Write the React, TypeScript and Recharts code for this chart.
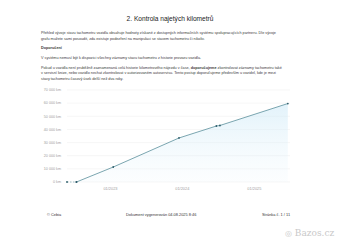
import {
  ComposedChart,
  Area,
  Line,
  XAxis,
  YAxis,
  CartesianGrid,
} from "recharts";

// Stav tachometru v čase
const dates = [
  "2022-05-25",
  "2022-07-12",
  "2023-01-15",
  "2023-12-15",
  "2024-06-22",
  "2024-07-10",
  "2025-06-20",
];
const km = [0, 0, 11400, 33500, 42600, 43000, 59700];
const yTicks = [0, 10000, 20000, 30000, 40000, 50000, 60000, 70000];
const xTicks = ["2023-01-01", "2024-01-01", "2025-01-01"];
const xDomain = ["2022-05-25", "2025-07-01"];

const data = dates.map((d, i) => ({
  t: Date.parse(d),
  dash: i < 2 ? km[i] : null,
  km: i >= 1 ? km[i] : null,
}));

const fmtKm = (v: number) =>
  `${String(v).replace(/\B(?=(\d{3})+(?!\d))/g, " ")} km`;
const fmtDate = (t: number) => {
  const d = new Date(t);
  return `${String(d.getUTCMonth() + 1).padStart(2, "0")}/${d.getUTCFullYear()}`;
};

const FONT = "'Liberation Sans', Arial, sans-serif";
const TEXT = "#3a3a3a";

const YTick = ({ x, y, payload }: any) => (
  <text
    x={x}
    y={y}
    dy="0.35em"
    textAnchor="end"
    fontSize={3.7}
    fill="#a0a0a0"
    fontFamily={FONT}
  >
    {fmtKm(payload.value)}
  </text>
);

const XTick = ({ x, y, payload }: any) => (
  <text
    x={x}
    y={y}
    dy="0.71em"
    textAnchor="middle"
    fontSize={3.9}
    fill="#a0a0a0"
    fontFamily={FONT}
  >
    {fmtDate(payload.value)}
  </text>
);

const lines: { y: number; text: React.ReactNode; bold?: boolean }[] = [
  {
    y: 33,
    text: "Přehled vývoje stavu tachometru vozidla obsahuje hodnoty získané z dostupných informačních systémů spolupracujících partnerů. Dle vývoje",
  },
  {
    y: 39,
    text: "grafu můžete sami posoudit, zda existuje podezření na manipulaci se stavem tachometru či nikoliv.",
  },
  { y: 48, text: "Doporučení", bold: true },
  {
    y: 58,
    text: "V systému nemusí být k dispozici všechny záznamy stavů tachometru z historie provozu vozidla.",
  },
  {
    y: 68,
    text: (
      <>
        Pokud u vozidla není průběžně zaznamenaná celá historie kilometrového nájezdu v čase,{" "}
        <b>doporučujeme</b> zkontrolovat záznamy tachometru také
      </>
    ),
  },
  {
    y: 73.5,
    text: "v servisní knize, nebo vozidlo nechat zkontrolovat v autorizovaném autoservisu. Tento postup doporučujeme především u vozidel, kde je mezi",
  },
  { y: 79, text: "stavy tachometru časový úsek delší než dva roky." },
];

export default function App() {
  return (
    <div
      style={{
        position: "fixed",
        left: 0,
        top: 0,
        width: 340,
        height: 242,
        background: "#fff",
        fontFamily: FONT,
        overflow: "hidden",
      }}
    >
      <div
        style={{
          position: "absolute",
          top: 14,
          width: 340,
          textAlign: "center",
          fontSize: 6.6,
          lineHeight: "10px",
          fontWeight: 500,
          color: "#222",
        }}
      >
        2. Kontrola najetých kilometrů
      </div>

      {lines.map((l, i) => (
        <div
          key={i}
          style={{
            position: "absolute",
            left: 41,
            top: l.y - 2.5,
            fontSize: 3.75,
            lineHeight: "5px",
            whiteSpace: "nowrap",
            color: TEXT,
            fontWeight: l.bold ? 700 : 400,
          }}
        >
          {l.text}
        </div>
      ))}

      <div style={{ position: "absolute", left: 0, top: 84 }}>
        <ComposedChart
          width={340}
          height={110}
          data={data}
          margin={{ top: 6, right: 50, bottom: 0, left: 0 }}
        >
          <defs>
            <linearGradient id="kmFill" x1="0" y1="0" x2="0" y2="1">
              <stop offset="0%" stopColor="#c6e6f6" stopOpacity={0.85} />
              <stop offset="100%" stopColor="#eaf6fc" stopOpacity={0.25} />
            </linearGradient>
          </defs>
          <CartesianGrid vertical={false} stroke="#f0f0f0" strokeWidth={0.6} />
          <XAxis
            dataKey="t"
            type="number"
            scale="time"
            domain={xDomain.map((d) => Date.parse(d))}
            ticks={xTicks.map((d) => Date.parse(d))}
            interval={0}
            axisLine={false}
            tickLine={false}
            tickSize={3}
            height={12}
            tick={<XTick />}
          />
          <YAxis
            domain={[0, 70000]}
            ticks={yTicks}
            interval={0}
            axisLine={false}
            tickLine={false}
            tickSize={4}
            width={67}
            tick={<YTick />}
          />
          <Area
            dataKey="km"
            type="linear"
            stroke="none"
            fill="url(#kmFill)"
            isAnimationActive={false}
            activeDot={false}
          />
          <Line
            dataKey="dash"
            type="linear"
            stroke="#7aa5b0"
            strokeWidth={0.7}
            strokeDasharray="1.5 1.5"
            dot={{ r: 0.9, fill: "#2f5e6b", stroke: "none" }}
            activeDot={false}
            isAnimationActive={false}
          />
          <Line
            dataKey="km"
            type="linear"
            stroke="#5a8f9c"
            strokeWidth={0.8}
            dot={{ r: 0.9, fill: "#2f5e6b", stroke: "none" }}
            activeDot={false}
            isAnimationActive={false}
          />
        </ComposedChart>
      </div>

      <div
        style={{
          position: "absolute",
          top: 212,
          left: 0,
          width: 340,
          fontSize: 3.9,
          lineHeight: "5px",
          color: "#333",
        }}
      >
        <span style={{ position: "absolute", left: 47 }}>© Cebia</span>
        <span style={{ position: "absolute", left: 126 }}>
          Dokument vygenerován 04.08.2025 8:46
        </span>
        <span style={{ position: "absolute", left: 262 }}>Stránka č. 1 / 11</span>
      </div>

      <div
        style={{
          position: "absolute",
          left: 285,
          top: 228,
          fontSize: 9,
          lineHeight: "11px",
          color: "#c9c9c9",
          fontFamily: "'DejaVu Serif', serif",
          whiteSpace: "nowrap",
        }}
      >
        <span style={{ fontSize: 8 }}>◎</span> Bazos.cz
      </div>
    </div>
  );
}
